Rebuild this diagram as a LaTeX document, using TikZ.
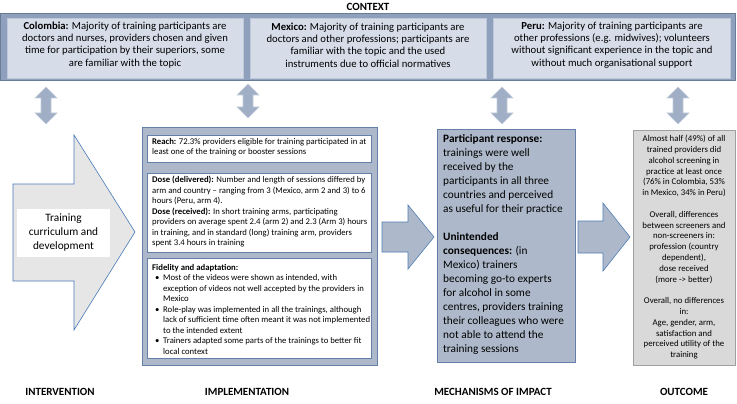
\documentclass[tikz,border=0pt]{standalone}
\usepackage{fontspec}
\setmainfont{Carlito}
\definecolor{bandfill}{RGB}{143,160,188}
\definecolor{banddraw}{RGB}{105,125,155}
\definecolor{ctxfill}{RGB}{214,221,233}
\definecolor{ctxdraw}{RGB}{190,200,216}
\definecolor{implfill}{RGB}{173,185,202}
\definecolor{impldraw}{RGB}{100,128,168}
\definecolor{arrfill}{RGB}{173,185,202}
\definecolor{arrdraw}{RGB}{80,125,180}
\definecolor{dblfill}{RGB}{160,175,198}
\definecolor{dbldraw}{RGB}{195,205,220}
\definecolor{outfill}{RGB}{217,217,217}
\definecolor{outdraw}{RGB}{160,160,160}
\definecolor{intfill}{RGB}{231,230,230}
\definecolor{intdraw}{RGB}{70,120,185}
\newcommand\vdblarrow[3]{%
 \draw[dblarr] ({#1},{#2}) -- ({#1+11},{#2+11}) -- ({#1+5},{#2+11}) -- ({#1+5},{#3-11}) -- ({#1+11},{#3-11}) -- ({#1},{#3}) -- ({#1-11},{#3-11}) -- ({#1-5},{#3-11}) -- ({#1-5},{#2+11}) -- ({#1-11},{#2+11}) -- cycle;}
\newcommand\bul{\hspace*{3pt}\makebox[8pt][l]{•}}
\newcommand\ind{\hspace*{11pt}}
\begin{document}
\begin{tikzpicture}[x=1pt,y=-1pt,
  dblarr/.style={fill=dblfill,draw=dbldraw,line width=0.6pt},
  blockarr/.style={fill=arrfill,draw=arrdraw,line width=0.6pt},
  band/.style={rectangle,fill=bandfill,draw=banddraw,line width=1pt,inner sep=0},
  ctxbox/.style={rectangle,fill=ctxfill,draw=ctxdraw,line width=0.6pt,inner sep=0},
  ctxtext/.style={align=center,inner sep=0,font=\fontsize{10.7}{12.2}\selectfont},
  implbox/.style={rectangle,fill=implfill,draw=impldraw,line width=0.8pt,inner sep=0},
  whitebox/.style={rectangle,fill=white,draw=impldraw,line width=0.6pt,inner sep=0},
  smalltext/.style={align=left,inner sep=0,anchor=north west,font=\fontsize{8.7}{10.5}\selectfont},
  mechbox/.style={rectangle,fill=implfill,draw=impldraw,line width=0.8pt,inner sep=0},
  mechtext/.style={align=left,inner sep=0,anchor=north west,font=\fontsize{11.3}{14}\selectfont},
  outbox/.style={rectangle,fill=outfill,draw=outdraw,line width=0.8pt,inner sep=0},
  outtext/.style={align=center,inner sep=0,anchor=north,font=\fontsize{8.8}{10.8}\selectfont},
  heading/.style={inner sep=0,font=\fontsize{11}{13}\selectfont\bfseries}
]
\useasboundingbox (0,0) rectangle (737,404);

% context
\node[heading] (ctitle) at (368,7) {CONTEXT};
\node[band,minimum width=735pt,minimum height=67pt] (context) at (367.5,47.5) {};
\node[ctxbox,minimum width=236pt,minimum height=60pt] (colombia) at (125,48) {};
\node[ctxbox,minimum width=236pt,minimum height=60pt] (mexico) at (368,48) {};
\node[ctxbox,minimum width=237pt,minimum height=60pt] (peru) at (612,48) {};
\node[ctxtext] (coltext) at (125,45) {\textbf{Colombia:} Majority of training participants are\\doctors and nurses, providers chosen and given\\time for participation by their superiors, some\\are familiar with the topic};
\node[ctxtext] (mextext) at (368,45) {\textbf{Mexico:} Majority of training participants are\\doctors and other professions; participants are\\familiar with the topic and the used\\instruments due to official normatives};
\node[ctxtext] (pertext) at (612,45) {\textbf{Peru:} Majority of training participants are\\other professions (e.g. midwives); volunteers\\without significant experience in the topic and\\without much organisational support};

% double arrows
\vdblarrow{46}{87}{124}
\vdblarrow{248}{84}{118}
\vdblarrow{502}{87}{124}
\vdblarrow{678}{87}{124}

% intervention
\draw[fill=intfill,draw=intdraw,line width=0.6pt] (13,184) -- (74,184) -- (74,135) -- (135,232) -- (74,330) -- (74,281) -- (13,281) -- cycle;
\node[rectangle,fill=white,inner sep=0,minimum width=93pt,minimum height=48pt] (trainbox) at (63.5,233) {};
\node[align=center,inner sep=0,font=\fontsize{11.3}{14}\selectfont] (traintext) at (63.5,233) {Training\\curriculum and\\development};

% implementation
\node[implbox,minimum width=235pt,minimum height=238pt] (impl) at (259.5,246) {};
\node[whitebox,minimum width=224pt,minimum height=27pt] (reach) at (259,148.5) {};
\node[whitebox,minimum width=224pt,minimum height=79pt] (dose) at (259,212.5) {};
\node[whitebox,minimum width=224pt,minimum height=100pt] (fidelity) at (259,308) {};
\node[smalltext] (reachtext) at (152,138) {\textbf{Reach:} 72.3\% providers eligible for training participated in at\\least one of the training or booster sessions};
\node[smalltext] (dosetext) at (152,176) {\textbf{Dose (delivered):} Number and length of sessions differed by\\arm and country -- ranging from 3 (Mexico, arm 2 and 3) to 6\\hours (Peru, arm 4).\\\textbf{Dose (received):} In short training arms, participating\\providers on average spent 2.4 (arm 2) and 2.3 (Arm 3) hours\\in training, and in standard (long) training arm, providers\\spent 3.4 hours in training};
\node[smalltext] (fidtext) at (152,264) {\textbf{Fidelity and adaptation:}\\\bul Most of the videos were shown as intended, with\\\ind exception of videos not well accepted by the providers in\\\ind Mexico\\\bul Role-play was implemented in all the trainings, although\\\ind lack of sufficient time often meant it was not implemented\\\ind to the intended extent\\\bul Trainers adapted some parts of the trainings to better fit\\\ind local context};

% arrow to mechanisms
\draw[blockarr] (382,222) -- (408,222) -- (408,205) -- (434,237) -- (408,269) -- (408,252) -- (382,252) -- cycle;

% mechanisms
\node[mechbox,minimum width=138pt,minimum height=233pt] (mech) at (506,245.5) {};
\node[mechtext] (mechtxt) at (443,134) {\textbf{Participant response:}\\trainings were well\\received by the\\participants in all three\\countries and perceived\\as useful for their practice\\[14pt]\textbf{Unintended}\\\textbf{consequences:} (in\\Mexico) trainers\\becoming go-to experts\\for alcohol in some\\centres, providers training\\their colleagues who were\\not able to attend the\\training sessions};

% arrow to outcome
\draw[blockarr] (578,221) -- (603,221) -- (603,203) -- (630,237) -- (603,271) -- (603,253) -- (578,253) -- cycle;

% outcome
\node[outbox,minimum width=102pt,minimum height=235pt] (outcome) at (684,247.5) {};
\node[outtext] (outtxt) at (684,135) {Almost half (49\%) of all\\trained providers did\\alcohol screening in\\practice at least once\\(76\% in Colombia, 53\%\\in Mexico, 34\% in Peru)\\[10.8pt]Overall, differences\\between screeners and\\non-screeners in:\\profession (country\\dependent),\\dose received\\(more -> better)\\[10.8pt]Overall, no differences\\in:\\Age, gender, arm,\\satisfaction and\\perceived utility of the\\training};

% bottom labels
\node[heading] (lint) at (60,392) {INTERVENTION};
\node[heading] (limp) at (247,392) {IMPLEMENTATION};
\node[heading] (lmech) at (493,392) {MECHANISMS OF IMPACT};
\node[heading] (lout) at (684,392) {OUTCOME};
\end{tikzpicture}
\end{document}
